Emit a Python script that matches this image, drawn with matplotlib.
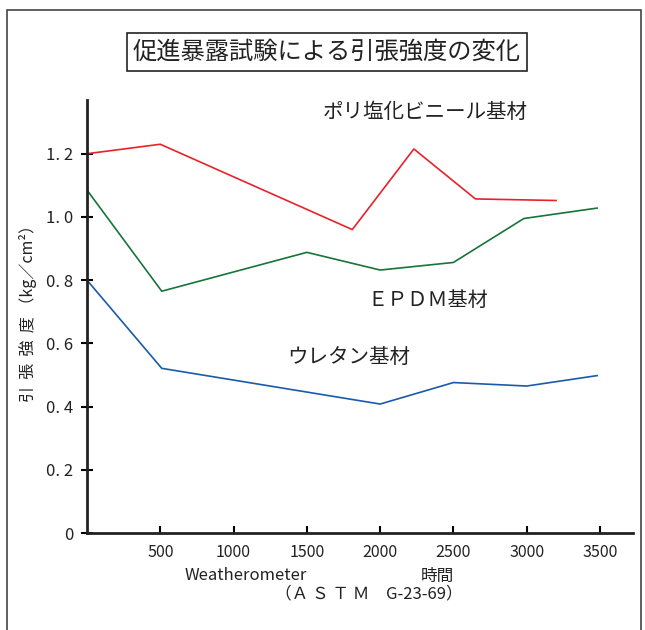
import matplotlib
matplotlib.use("Agg")
import matplotlib.pyplot as plt
from matplotlib.patches import Rectangle

plt.rcParams['font.family'] = ['Noto Sans CJK JP', 'DejaVu Sans']

# data
pvc_x = [0, 500, 1810, 2230, 2650, 3200]
pvc_y = [1.20, 1.23, 0.96, 1.215, 1.057, 1.052]

epdm_x = [0, 510, 1500, 2000, 2500, 2980, 3480]
epdm_y = [1.085, 0.765, 0.888, 0.832, 0.856, 0.995, 1.028]

ure_x = [0, 510, 2000, 2500, 3000, 3480]
ure_y = [0.80, 0.521, 0.408, 0.476, 0.465, 0.498]

xticks = [500, 1000, 1500, 2000, 2500, 3000, 3500]
yticks = [0, 0.2, 0.4, 0.6, 0.8, 1.0, 1.2]
ylabels = ['0', '0. 2', '0. 4', '0. 6', '0. 8', '1. 0', '1. 2']

fig = plt.figure(figsize=(6.45, 6.30), dpi=100)
ax = fig.add_axes([87 / 645, 1 - 533 / 630, (633 - 87) / 645, (533 - 100) / 630])

ax.plot(pvc_x, pvc_y, color='#e8212b', lw=1.2)
ax.plot(epdm_x, epdm_y, color='#17743a', lw=1.2)
ax.plot(ure_x, ure_y, color='#1a5aab', lw=1.2)

ax.set_xlim(0, 3725)
ax.set_ylim(0, 1.37)
ax.set_xticks(xticks)
ax.set_xticklabels([str(t) for t in xticks], fontsize=11.5, color='#222222')
ax.set_yticks(yticks)
ax.set_yticklabels(ylabels, fontsize=12, color='#222222')
ax.tick_params(axis='x', direction='in', length=5, width=1.5, pad=8)
ax.tick_params(axis='y', direction='inout', length=8, width=1.5, pad=6)
for s in ['top', 'right']:
    ax.spines[s].set_visible(False)
for s in ['left', 'bottom']:
    ax.spines[s].set_linewidth(2)
    ax.spines[s].set_color('#222222')

# outer frame
fig.patches.append(Rectangle((7 / 645, -0.05), (641 - 7) / 645, 1.05 - 10 / 630,
                             transform=fig.transFigure, fill=False,
                             edgecolor='#444444', lw=1.2))

# title box
fig.text(327 / 645, 1 - 52 / 630, '促進暴露試験による引張強度の変化', ha='center', va='center',
         fontsize=17.5, color='#222222',
         bbox=dict(boxstyle='square,pad=0.25', fc='white', ec='#222222', lw=1.2))

fig.text(28 / 645, 1 - 310 / 630, '引  張  強  度 （kg／cm²）', rotation=90, ha='center',
         va='center', fontsize=11.5, color='#222222')

fig.text(425 / 645, 1 - 112 / 630, 'ポリ塩化ビニール基材', ha='center', va='center',
         fontsize=14.8, color='#222222')
fig.text(428 / 645, 1 - 300 / 630, 'ＥＰＤＭ基材', ha='center', va='center',
         fontsize=14.5, color='#222222')
fig.text(349 / 645, 1 - 357 / 630, 'ウレタン基材', ha='center', va='center',
         fontsize=14.8, color='#222222')

fig.text(246 / 645, 1 - 576 / 630, 'Weatherometer', ha='center', va='center',
         fontsize=12, color='#222222')
fig.text(437 / 645, 1 - 576 / 630, '時間', ha='center', va='center',
         fontsize=12, color='#222222')
fig.text(369 / 645, 1 - 594 / 630, '（Ａ Ｓ Ｔ Ｍ　G-23-69）', ha='center', va='center',
         fontsize=12, color='#222222')

fig.savefig('out.png', dpi=100)
